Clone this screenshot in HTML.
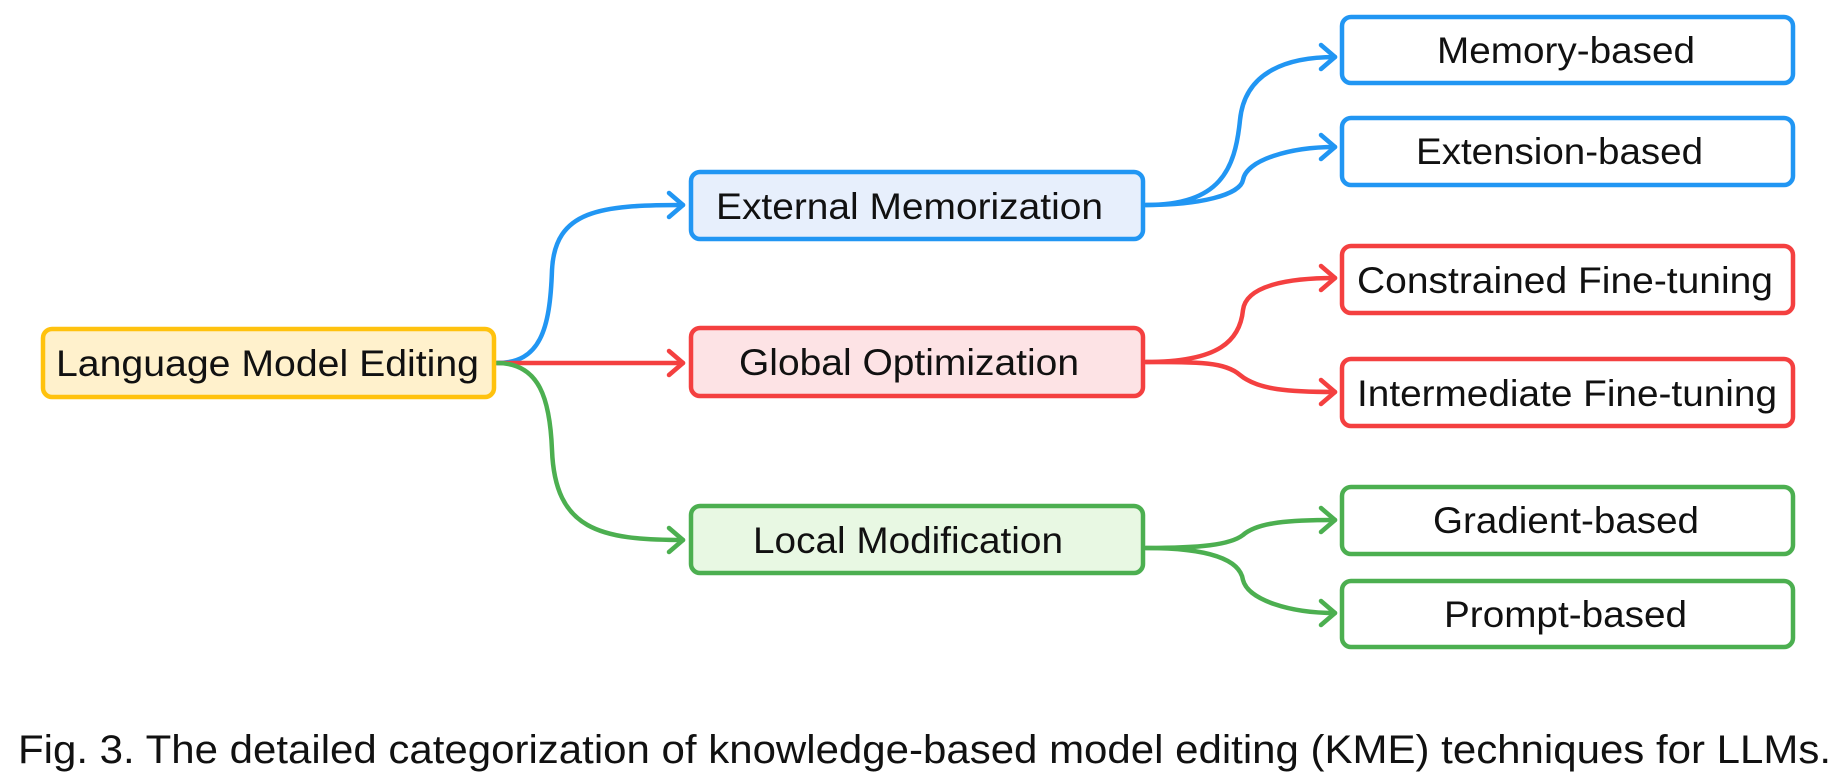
<!DOCTYPE html>
<html><head><meta charset="utf-8"><style>
html,body{margin:0;padding:0;background:#fff;width:1840px;height:781px;overflow:hidden}
</style></head><body>
<svg width="1840" height="781" xmlns="http://www.w3.org/2000/svg" font-family="Liberation Sans, Arial, sans-serif">
<g fill="none" stroke-width="4.5" stroke-linecap="round" stroke-linejoin="round">
<g stroke="#2196f3">
<path d="M497,363 C540,363 550,330 552,270 C555,210 600,205 683,205"/>
<path d="M669,193 L683,205 L669,217"/>
<path d="M1146,205 C1220,205 1235,170 1240,120 C1245,70 1290,57 1335,57"/>
<path d="M1321,45 L1335,57 L1321,69"/>
<path d="M1146,205 C1200,205 1240,195 1243,180 C1246,160 1290,147 1335,147"/>
<path d="M1321,135 L1335,147 L1321,159"/>
</g>
<g stroke="#f44040">
<path d="M497,363 L683,363"/>
<path d="M669,351 L683,363 L669,375"/>
<path d="M1146,362 C1220,362 1240,340 1243,310 C1246,285 1290,278 1335,278"/>
<path d="M1321,266 L1335,278 L1321,290"/>
<path d="M1146,362 C1200,362 1225,362 1240,375 C1258,390 1290,392 1335,392"/>
<path d="M1321,380 L1335,392 L1321,404"/>
</g>
<g stroke="#4caf50">
<path d="M497,363 C540,363 550,400 552,450 C555,530 600,540 683,540"/>
<path d="M669,528 L683,540 L669,552"/>
<path d="M1146,548 C1200,548 1230,545 1243,535 C1258,522 1290,520 1335,520"/>
<path d="M1321,508 L1335,520 L1321,532"/>
<path d="M1146,548 C1210,548 1240,560 1243,580 C1248,600 1290,613 1335,613"/>
<path d="M1321,601 L1335,613 L1321,625"/>
</g>
</g>
<g stroke-width="4.5">
<rect x="43" y="329" width="451" height="68" rx="9" fill="#fff1cc" stroke="#ffc20e"/>
<rect x="691" y="172" width="452" height="67" rx="9" fill="#e7effc" stroke="#2196f3"/>
<rect x="691" y="328" width="452" height="68" rx="9" fill="#fde3e5" stroke="#f44040"/>
<rect x="691" y="506" width="452" height="67" rx="9" fill="#e8f8e3" stroke="#4caf50"/>
<rect x="1342" y="17" width="451" height="66" rx="9" fill="#fff" stroke="#2196f3"/>
<rect x="1342" y="118" width="451" height="67" rx="9" fill="#fff" stroke="#2196f3"/>
<rect x="1342" y="246" width="451" height="67" rx="9" fill="#fff" stroke="#f44040"/>
<rect x="1342" y="359" width="451" height="67" rx="9" fill="#fff" stroke="#f44040"/>
<rect x="1342" y="487" width="451" height="67" rx="9" fill="#fff" stroke="#4caf50"/>
<rect x="1342" y="581" width="451" height="66" rx="9" fill="#fff" stroke="#4caf50"/>
</g>
<g font-size="37" fill="#111" lengthAdjust="spacingAndGlyphs">
<text x="56" y="376" textLength="423" lengthAdjust="spacingAndGlyphs">Language Model Editing</text>
<text x="716" y="219" textLength="387" lengthAdjust="spacingAndGlyphs">External Memorization</text>
<text x="739" y="375" textLength="340" lengthAdjust="spacingAndGlyphs">Global Optimization</text>
<text x="753" y="553" textLength="310" lengthAdjust="spacingAndGlyphs">Local Modification</text>
<text x="1437" y="63" textLength="258" lengthAdjust="spacingAndGlyphs">Memory-based</text>
<text x="1416" y="164" textLength="287" lengthAdjust="spacingAndGlyphs">Extension-based</text>
<text x="1357" y="293" textLength="416" lengthAdjust="spacingAndGlyphs">Constrained Fine-tuning</text>
<text x="1357" y="406" textLength="420" lengthAdjust="spacingAndGlyphs">Intermediate Fine-tuning</text>
<text x="1433" y="533" textLength="266" lengthAdjust="spacingAndGlyphs">Gradient-based</text>
<text x="1444" y="627" textLength="243" lengthAdjust="spacingAndGlyphs">Prompt-based</text>
</g>
<text x="18" y="763" font-size="40" fill="#111" textLength="1813" lengthAdjust="spacingAndGlyphs">Fig. 3.  The detailed categorization of knowledge-based model editing (KME) techniques for LLMs.</text>
</svg>
</body></html>
